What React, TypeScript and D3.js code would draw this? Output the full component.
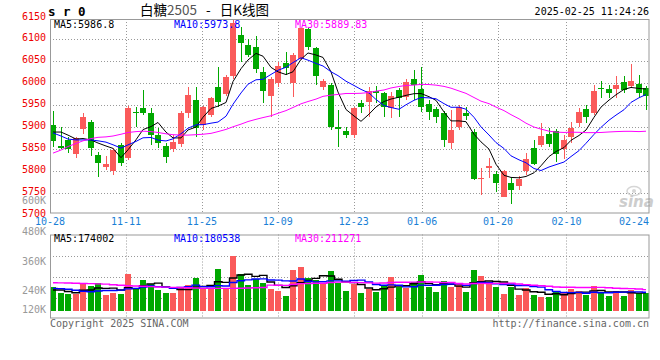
import React from 'react';
import * as d3 from 'd3';

// ---- data ----
const opens = [
  5905, 5857, 5871, 5840, 5895, 5911, 5837, 5810, 5801, 5860,
  5829, 5935, 5943, 5933, 5882, 5857, 5850, 5861, 5932, 5962,
  5905, 5928, 5991, 5976, 6017, 6110, 6087, 6082, 6026, 5972,
  6000, 6047, 6000, 6055, 6123, 6080, 5991, 5996, 5900, 5892,
  5882, 5955, 5958, 5983, 5977, 5944, 5985, 5970, 6011, 5986,
  5953, 5941, 5933, 5863, 5900, 5932, 5890, 5781, 5806, 5793,
  5742, 5774, 5766, 5800, 5852, 5859, 5885, 5892, 5850, 5878,
  5910, 5941, 5932, 5990, 5988, 5987, 6002, 5994, 5998, 5990,
];
const closes = [
  5869, 5853, 5850, 5875, 5924, 5853, 5818, 5816, 5848, 5818,
  5943, 5932, 5932, 5882, 5865, 5833, 5866, 5932, 5973, 5898,
  5945, 5966, 5958, 6015, 6137, 6091, 6065, 6033, 5983, 6010,
  6040, 6034, 6065, 6125, 6082, 6017, 6006, 5901, 5895, 5883,
  5943, 5945, 5983, 5977, 5945, 5971, 5966, 6004, 5996, 5947,
  5935, 5924, 5872, 5894, 5947, 5926, 5781, 5785, 5812, 5774,
  5800, 5757, 5781, 5827, 5816, 5880, 5862, 5838, 5872, 5899,
  5935, 5924, 5983, 5988, 5979, 5996, 5985, 6005, 5977, 5972,
];
const highs = [
  5937, 5900, 5878, 5878, 5933, 5916, 5844, 5834, 5853, 5865,
  5948, 5947, 5985, 5944, 5898, 5863, 5882, 5937, 5991, 5991,
  5948, 5970, 6038, 6019, 6144, 6129, 6100, 6108, 6038, 6015,
  6049, 6072, 6068, 6126, 6125, 6083, 6010, 6001, 5939, 5901,
  5947, 5962, 5991, 5994, 5980, 5981, 5989, 6009, 6030, 6038,
  5962, 5947, 5937, 5939, 5951, 5947, 5896, 5807, 5830, 5801,
  5803, 5784, 5789, 5841, 5871, 5909, 5898, 5896, 5882, 5913,
  5943, 5951, 5996, 6005, 5996, 6017, 6017, 6044, 6019, 5994,
];
const lows = [
  5855, 5850, 5842, 5829, 5884, 5834, 5787, 5803, 5791, 5812,
  5825, 5901, 5928, 5859, 5852, 5819, 5844, 5854, 5921, 5878,
  5894, 5924, 5947, 5971, 6011, 6049, 6061, 6024, 5955, 5924,
  5992, 6019, 5970, 6053, 6076, 5996, 5985, 5894, 5856, 5875,
  5875, 5932, 5924, 5955, 5923, 5920, 5924, 5962, 5962, 5935,
  5916, 5909, 5856, 5850, 5894, 5916, 5779, 5746, 5784, 5753,
  5741, 5725, 5757, 5791, 5814, 5854, 5855, 5821, 5828, 5863,
  5901, 5909, 5928, 5966, 5966, 5966, 5977, 5990, 5967, 5939,
];
const volumes = [
  235000, 179000, 170000, 170000, 262000, 245000, 277000, 157000, 179000, 170000,
  363000, 228000, 304000, 265000, 206000, 179000, 179000, 228000, 255000, 326000,
  216000, 222000, 412000, 228000, 542000, 363000, 255000, 311000, 277000, 216000,
  199000, 147000, 402000, 428000, 320000, 304000, 271000, 392000, 271000, 196000,
  262000, 179000, 216000, 189000, 248000, 336000, 238000, 228000, 287000, 353000,
  238000, 189000, 294000, 238000, 262000, 189000, 402000, 343000, 271000, 238000,
  167000, 238000, 157000, 228000, 157000, 140000, 140000, 183000, 173000, 216000,
  196000, 157000, 245000, 189000, 150000, 196000, 150000, 206000, 173000, 173000,
];
// moving-average values before enough candles are on screen
const ma5Head = [5889, 5889, 5882, 5873];
const ma10Head = [5887, 5880, 5873, 5871, 5871, 5871, 5869, 5866, 5860];
const ma30Head = [
  5841, 5848, 5856, 5863, 5869, 5874, 5877, 5878, 5880, 5884,
  5888, 5890, 5891, 5890, 5888, 5885, 5883, 5882, 5882, 5883,
  5884, 5886, 5890, 5895, 5901, 5907, 5913, 5918, 5922,
];
const vma5Head = [206000, 206000, 191000, 179000];
const vma10Head = [222000, 219000, 213000, 203000, 193000, 189000, 196000, 201000, 201000];
const vma30Head = [
  277000, 276000, 274000, 272000, 270000, 268000, 266000, 263000, 258000, 253000,
  248000, 245000, 242000, 239000, 236000, 234000, 232000, 231000, 228000, 225000,
  222000, 222000, 222000, 222000, 222000, 223000, 225000, 228000, 230000,
];

const dateLabels = ['10-28', '11-11', '11-25', '12-09', '12-23', '01-06', '01-20', '02-10', '02-24'];
const dateIndex = [0, 10, 20, 30, 40, 49, 59, 68, 78];
const priceTicks = [6150, 6100, 6050, 6000, 5950, 5900, 5850, 5800, 5750, 5700];
const volTickLabels = ['600K', '480K', '360K', '240K', '120K'];
const volTickValues = [600000, 480000, 360000, 240000, 120000];

const titleName = '白糖';
const titleCode = '2505';
const titleDash = '-';
const titleRest = '日K线图';
const symbol = 's r 0';
const timestamp = '2025-02-25 11:24:26';
const priceMaLabels = ['MA5:5986.8', 'MA10:5973.8', 'MA30:5889.83'];
const volMaLabels = ['MA5:174002', 'MA10:180538', 'MA30:211271'];
const copyright = 'Copyright 2025 SINA.COM';
const url = 'http://finance.sina.com.cn';

// ---- layout ----
const W = 660;
const H = 360;
const L = 50;
const R = 649.5;
const mainTop = 19;
const mainBottom = 213.5;
const volTop = 234.5;
const volBottom = 318.5;
const N = closes.length;

const RED = '#fa5a5a';
const GREEN = '#00a800';
const MA_COLORS = ['#000000', '#0000ff', '#ff00ff'];
const FONT = '"DejaVu Sans Mono", monospace';

function rolling(vals: number[], n: number, head: number[]): number[] {
  return vals.map((_, i) => (i >= n - 1 ? (d3.mean(vals.slice(i - n + 1, i + 1)) as number) : head[i]));
}

export default function App() {
  const x = d3.scaleBand<number>().domain(d3.range(N)).range([L, R]).paddingInner(0.2).paddingOuter(0);
  const bw = Math.round(x.bandwidth());
  const cx = (i: number) => Math.round(x(i) as number) + bw / 2;
  const y = d3.scaleLinear().domain([5700, 6150]).range([215, 17.5]);
  const yv = d3.scaleLinear().domain([0, 750000]).range([311, volTop]);
  const xt = d3.scaleLinear().domain([0, N - 1]).range([L, 650]);
  const yvLabel = d3.scaleLinear().domain([120000, 240000, 360000, 480000, 600000]).range([313.4, 294, 264.6, 235.3, 203.8]);

  const ma = [rolling(closes, 5, ma5Head), rolling(closes, 10, ma10Head), rolling(closes, 30, ma30Head)];
  const vma = [rolling(volumes, 5, vma5Head), rolling(volumes, 10, vma10Head), rolling(volumes, 30, vma30Head)];

  const priceLine = d3.line<number>().x((_, i) => cx(i)).y((v) => y(v));
  const volLine = d3.line<number>().x((_, i) => cx(i)).y((v) => yv(v)).curve(d3.curveStep);

  const hGrid = priceTicks.filter((t) => t < 6150 && t > 5700);
  const volGrid = [1, 2, 3].map((k) => volTop + ((volBottom - volTop) * k) / 4);
  const vGridIdx = dateIndex.filter((d) => d > 0 && d < N - 2);

  const labelW = 30;

  return (
    <svg width={W} height={H} style={{ position: 'absolute', left: 0, top: 0, background: '#fff' }}
      fontFamily={FONT}>
      <defs>
        <clipPath id="mainClip"><rect x={L} y={mainTop} width={R - L} height={mainBottom - mainTop} /></clipPath>
        <clipPath id="volClip"><rect x={L} y={volTop} width={R - L} height={volBottom - volTop} /></clipPath>
      </defs>
      <rect x={0} y={0} width={W} height={H} fill="#fff" />

      {/* header */}
      <text x={48} y={16} fontSize={12.5} fontWeight="bold" fill="#000">{symbol}</text>
      <text x={140} y={15} fontSize={13.5} fontFamily='"Noto Sans CJK SC", sans-serif' fill="#000">
        {titleName}<tspan fill="#555">{titleCode}</tspan>
        <tspan dx={9}>{titleDash}</tspan>
        <tspan dx={9}>{titleRest}</tspan>
      </text>
      <text x={649} y={15} textAnchor="end" fontSize={10} fill="#000">{timestamp}</text>

      {/* main grid */}
      {hGrid.map((t) => (
        <line key={'h' + t} x1={L} x2={R} y1={Math.round(y(t)) + 0.5} y2={Math.round(y(t)) + 0.5}
          stroke="#999" strokeDasharray="1,2" />
      ))}
      {vGridIdx.map((d) => (
        <g key={'v' + d}>
          <line x1={Math.round(xt(d)) + 0.5} x2={Math.round(xt(d)) + 0.5} y1={mainTop} y2={mainBottom}
            stroke="#999" strokeDasharray="1,2" />
          <line x1={Math.round(xt(d)) + 0.5} x2={Math.round(xt(d)) + 0.5} y1={volTop} y2={volBottom}
            stroke="#999" strokeDasharray="1,2" />
        </g>
      ))}
      {volGrid.map((g, k) => (
        <line key={'vg' + k} x1={L} x2={R} y1={Math.round(g) + 0.5} y2={Math.round(g) + 0.5}
          stroke="#999" strokeDasharray="1,2" />
      ))}

      {/* candles */}
      <g clipPath="url(#mainClip)" shapeRendering="crispEdges">
        {closes.map((c, i) => {
          const o = opens[i];
          const up = c >= o;
          const col = up ? RED : GREEN;
          const left = Math.round(x(i) as number);
          const top = y(Math.max(o, c));
          const h = Math.max(1, Math.abs(y(o) - y(c)));
          return (
            <g key={'c' + i}>
              <line x1={left + 3} x2={left + 3} y1={y(highs[i])} y2={y(lows[i])} stroke={col} />
              <rect x={left} y={top} width={bw} height={h} fill={col} />
            </g>
          );
        })}
      </g>
      <g clipPath="url(#mainClip)" fill="none">
        {ma.map((s, k) => (
          <path key={'ma' + k} d={priceLine(s) as string} stroke={MA_COLORS[k]} strokeWidth={1} />
        ))}
      </g>

      {/* volume bars */}
      <g clipPath="url(#volClip)" shapeRendering="crispEdges">
        {volumes.map((v, i) => {
          const up = closes[i] >= opens[i];
          const left = Math.round(x(i) as number);
          return <rect key={'vb' + i} x={left} y={yv(v)} width={bw} height={yv(0) - yv(v)} fill={up ? RED : GREEN} />;
        })}
      </g>
      <g clipPath="url(#volClip)" fill="none">
        {vma.map((s, k) => (
          <path key={'vma' + k} d={volLine(s) as string} stroke={MA_COLORS[k]} strokeWidth={1.4} />
        ))}
      </g>

      {/* watermark */}
      <g opacity={0.9}>
        <ellipse cx={634} cy={191} rx={7} ry={4.5} fill="none" stroke="#d2d2d2" strokeWidth={1.5} />
        <circle cx={634} cy={191} r={2} fill="#d2d2d2" />
        <text x={619} y={207} fontSize={15} fontStyle="italic" fontWeight="bold" fill="#c8c8c8"
          fontFamily='"DejaVu Sans", sans-serif'>sina</text>
      </g>

      {/* panel borders */}
      <rect x={L + 0.5} y={mainTop + 0.5} width={R - L - 1} height={mainBottom - mainTop - 1} fill="none" stroke="#999" />
      <rect x={L + 0.5} y={volTop + 0.5} width={R - L - 1} height={volBottom - volTop - 1} fill="none" stroke="#999" />

      {/* MA labels */}
      {priceMaLabels.map((t, k) => (
        <text key={'pl' + k} x={[54, 174, 295][k]} y={28} fontSize={10} fill={MA_COLORS[k]}>{t}</text>
      ))}
      {volMaLabels.map((t, k) => (
        <text key={'vl' + k} x={[54, 174, 295][k]} y={242} fontSize={10} fill={MA_COLORS[k]}>{t}</text>
      ))}

      {/* price axis */}
      {priceTicks.map((t) => (
        <text key={'pt' + t} x={46} y={y(t) + 2} textAnchor="end" fontSize={10} fill="#ee0000">{t}</text>
      ))}
      {/* volume axis */}
      {volTickValues.map((v, k) => (
        <text key={'vt' + v} x={46} y={yvLabel(v)} textAnchor="end" fontSize={10} fill="#999">{volTickLabels[k]}</text>
      ))}
      {/* date axis */}
      {dateIndex.map((d, k) => {
        const c = Math.min(xt(d), 649 - labelW / 2);
        return (
          <text key={'d' + d} x={c} y={225} textAnchor="middle" fontSize={10} fill="#1a7fd6">{dateLabels[k]}</text>
        );
      })}

      {/* footer */}
      <text x={50} y={327} fontSize={10} fill="#666">{copyright}</text>
      <text x={649} y={327} textAnchor="end" fontSize={10} fill="#666">{url}</text>
    </svg>
  );
}
